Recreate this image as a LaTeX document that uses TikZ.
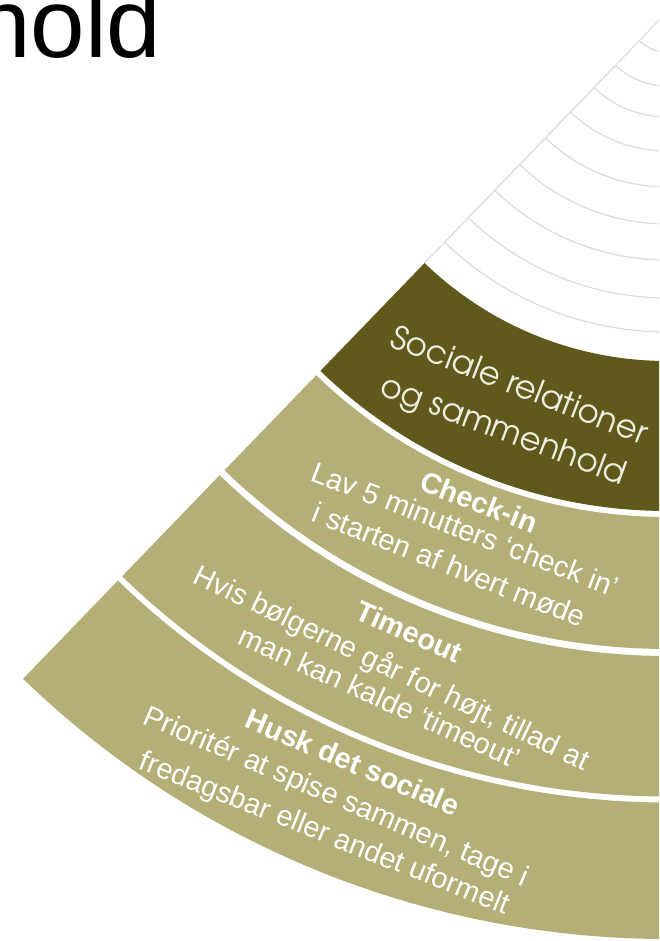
\documentclass[tikz,border=0pt]{standalone}
\usepackage{fontspec}
\setmainfont{Liberation Sans}
\newfontfamily\advfont{texgyreadventor-regular.otf}
\definecolor{darkolive}{HTML}{5F5A1B}
\definecolor{lightolive}{HTML}{B3AF77}
\definecolor{arcgrey}{HTML}{DDDDDD}
\definecolor{paletext}{HTML}{EEEDE2}
\tikzset{
  gridarc/.style={draw=arcgrey, line width=1.3pt},
  titletxt/.style={text=black, inner sep=0pt, font=\fontsize{98pt}{98pt}\selectfont},
  cattxt/.style={text=paletext, inner sep=0pt, anchor=base, font=\advfont\fontsize{32.5pt}{38pt}\selectfont},
  headtxt/.style={text=white, inner sep=0pt, anchor=base, font=\fontsize{29pt}{34pt}\selectfont\bfseries},
  bodytxt/.style={text=white, inner sep=0pt, anchor=base, font=\fontsize{29pt}{34pt}\selectfont},
}
\newcommand{\annsector}[3]{%
  \fill[#1] (226:#2) arc[start angle=226,end angle=300,radius=#2]
    -- (300:#3) arc[start angle=300,end angle=226,radius=#3] -- cycle;}
\begin{document}
\begin{tikzpicture}[x=1pt,y=1pt]
\useasboundingbox (0,0) rectangle (659,941);
\clip (0,0) rectangle (659,941);
\begin{scope}[shift={(667,929)}]
  \foreach \r in {40,74,105,139,175,212,248,286,320}
    \draw[gridarc] (226:\r pt) arc[start angle=226,end angle=300,radius=\r pt];
  \draw[gridarc] (0,0) -- (226:349pt);
  \annsector{darkolive}{349pt}{499pt}
  \annsector{lightolive}{505pt}{637pt}
  \annsector{lightolive}{644pt}{784.5pt}
  \annsector{lightolive}{790.5pt}{927pt}
\end{scope}
\node[titletxt, anchor=base east] (title) at (161.7,883) {hold};
\node[cattxt, rotate=-21.3] (cat1) at (515.5,545.5) {Sociale relationer};
\node[cattxt, rotate=-20.5] (cat2) at (500,501) {og sammenhold};
\node[headtxt, rotate=-21.1] (h1) at (475.5,429.3) {Check-in};
\node[bodytxt, rotate=-21.1] (b1a) at (461.4,402.1) {Lav 5 minutters ‘check in’};
\node[bodytxt, rotate=-21.7] (b1b) at (445.7,366.7) {i starten af hvert møde};
\node[headtxt, rotate=-24] (h2) at (405,300) {Timeout};
\node[bodytxt, rotate=-25.7] (b2a) at (387.4,264.6) {Hvis bølgerne går for højt, tillad at};
\node[bodytxt, rotate=-24.4] (b2b) at (375.7,234.6) {man kan kalde ‘timeout’};
\node[headtxt, rotate=-23] (h3) at (348.9,169.3) {Husk det sociale};
\node[bodytxt, rotate=-23.2] (b3a) at (332.5,136) {Prioritér at spise sammen, tage i};
\node[bodytxt, rotate=-21.7] (b3b) at (321.3,99.3) {fredagsbar eller andet uformelt};
\end{tikzpicture}
\end{document}
